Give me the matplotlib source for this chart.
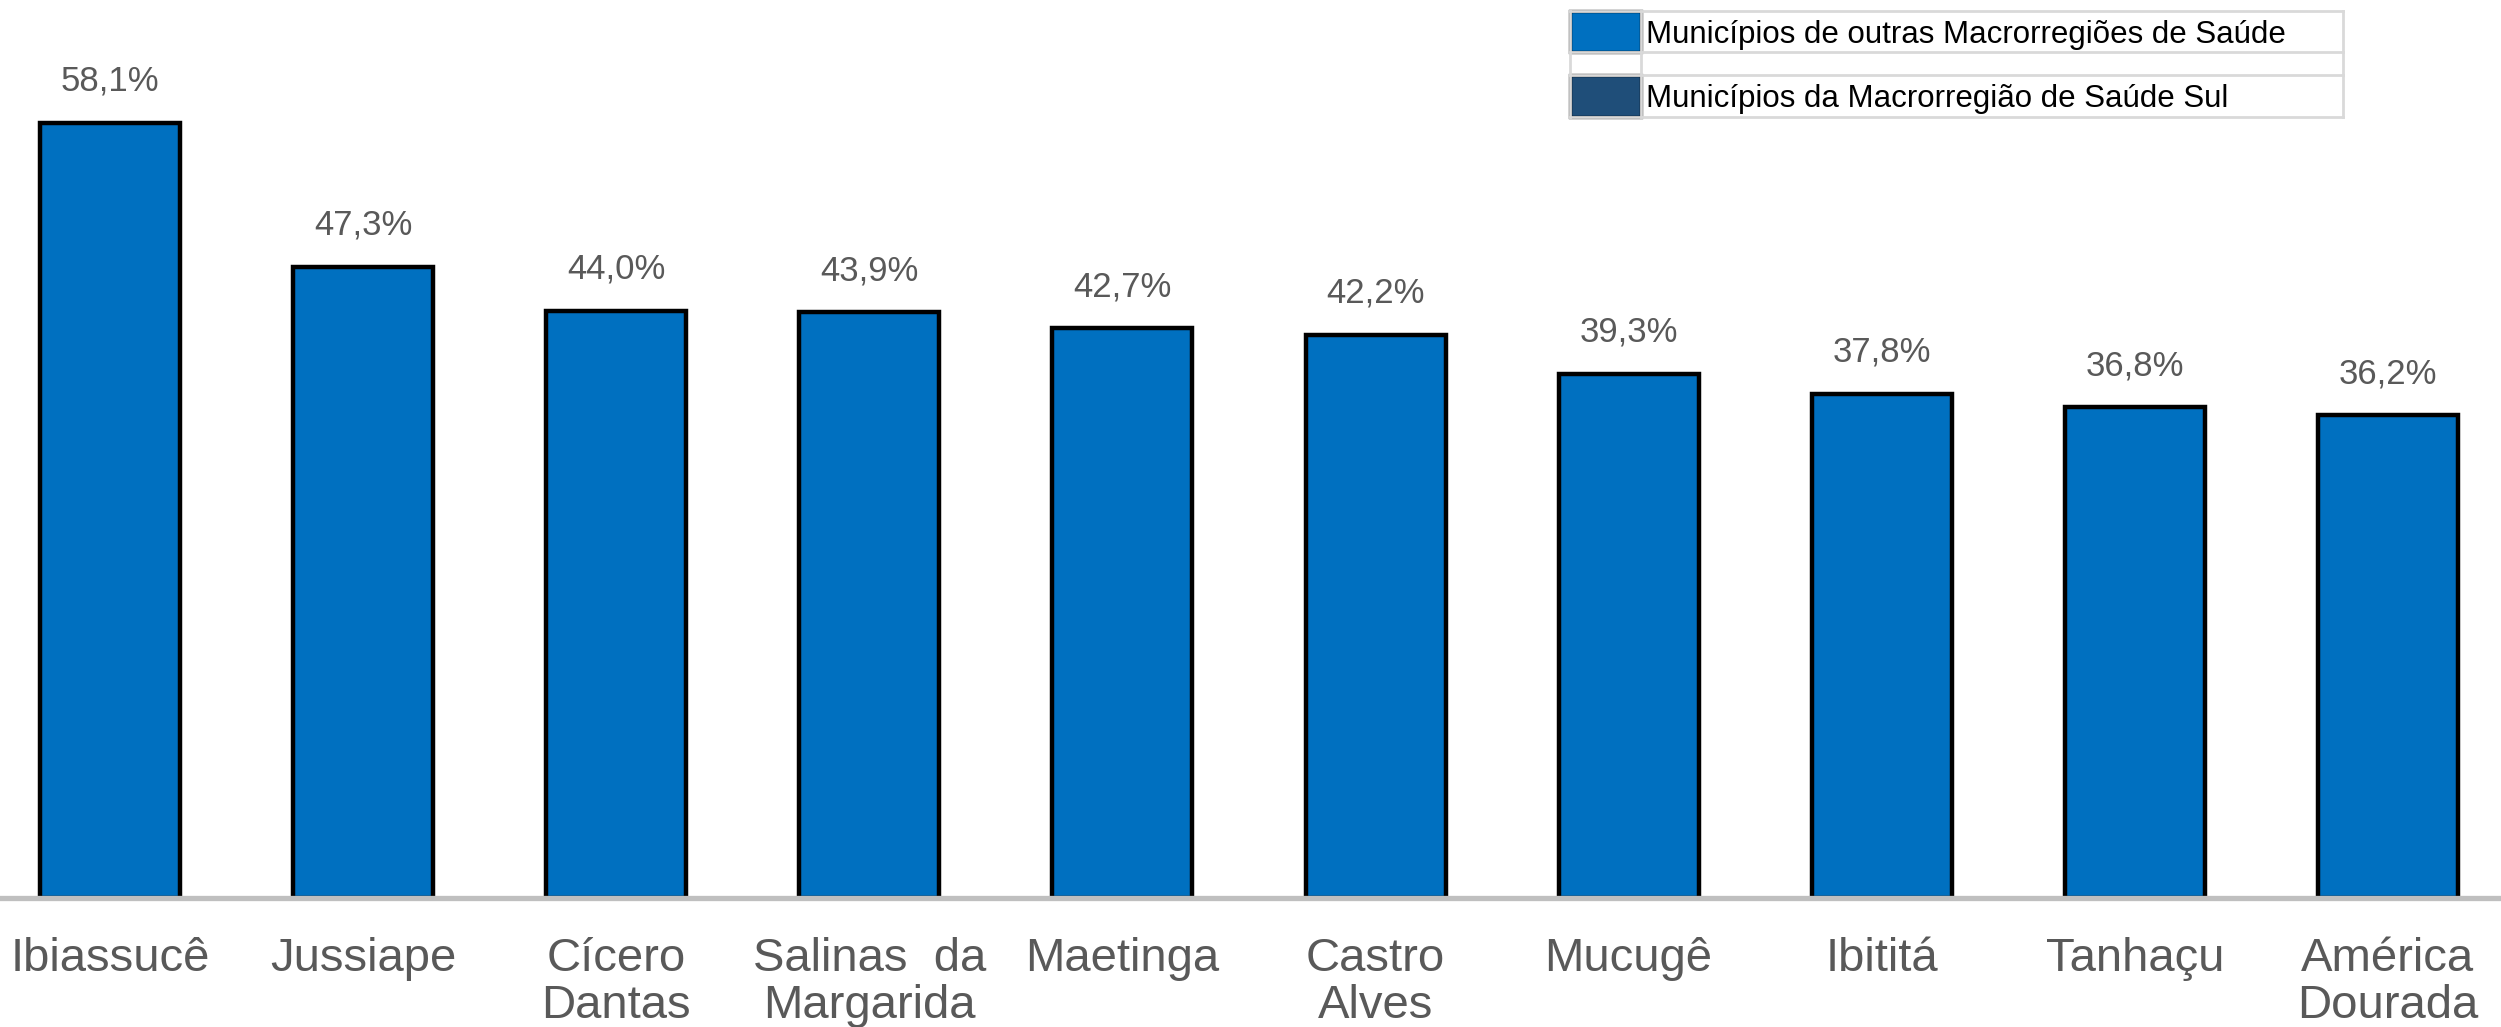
import matplotlib
matplotlib.use('Agg')
import matplotlib.pyplot as plt
from matplotlib.patches import Rectangle
from matplotlib.lines import Line2D

categories = ["Ibiassucê", "Jussiape", "Cícero\nDantas", "Salinas  da\nMargarida", "Maetinga",
              "Castro\nAlves", "Mucugê", "Ibititá", "Tanhaçu", "América\nDourada"]
values = [58.1, 47.3, 44.0, 43.9, 42.7, 42.2, 39.3, 37.8, 36.8, 36.2]
value_labels = ["58,1%", "47,3%", "44,0%", "43,9%", "42,7%", "42,2%", "39,3%", "37,8%", "36,8%", "36,2%"]
legend_labels = ["Municípios de outras Macrorregiões de Saúde", "Municípios da Macrorregião de Saúde Sul"]
legend_colors = ["#0070C0", "#1F4E79"]

plt.rcParams['font.family'] = ['Liberation Sans', 'DejaVu Sans']

W, H = 2501, 1027
BASE = 898
fig = plt.figure(figsize=(W / 100, H / 100), dpi=100)
ax = fig.add_axes([0, (H - BASE) / H, 1, BASE / H])

x = list(range(len(values)))
ax.bar(x, values, width=0.553, color=legend_colors[0], edgecolor='black', linewidth=3.2, zorder=2)
ax.set_xlim(-0.435, 9.447)
ax.set_ylim(0, 67.3)
for s in ['top', 'left', 'right']:
    ax.spines[s].set_visible(False)
ax.spines['bottom'].set_color('#BFBFBF')
ax.spines['bottom'].set_linewidth(3.8)
ax.spines['bottom'].set_zorder(3)
ax.set_yticks([])
ax.set_xticks(x)
ax.set_xticklabels(categories, fontsize=34, color='#595959', linespacing=1.08)
ax.tick_params(axis='x', length=0, pad=28)

for xi, v, lbl in zip(x, values, value_labels):
    ax.annotate(lbl, (xi, v), xytext=(0, 23), textcoords='offset points',
                ha='center', va='baseline', fontsize=25, color='#595959')

# Legend drawn as a small table (figure pixel coordinates)
def fx(px):
    return px / W

def fy(py):
    return 1 - py / H

L, P, R = 1570, 1641, 2343
rows = [(11, 52), (75, 117)]
grid = '#D9D9D9'
for yy in [11, 52, 75, 117]:
    fig.add_artist(Line2D([fx(L), fx(R)], [fy(yy), fy(yy)], color=grid, lw=2))
for xx in [L, P, R]:
    fig.add_artist(Line2D([fx(xx), fx(xx)], [fy(11), fy(117)], color=grid, lw=2))
for (y0, y1), col, lab in zip(rows, legend_colors, legend_labels):
    fig.add_artist(Rectangle((fx(L), fy(y1)), fx(P) - fx(L), fy(y0) - fy(y1),
                             facecolor=col, edgecolor='black', lw=2.4,
                             transform=fig.transFigure))
    fig.text(fx(P + 5), fy((y0 + y1) / 2), lab, ha='left', va='center_baseline',
             fontsize=22.5, color='black')

fig.savefig('out.png', dpi=100, facecolor='white')
